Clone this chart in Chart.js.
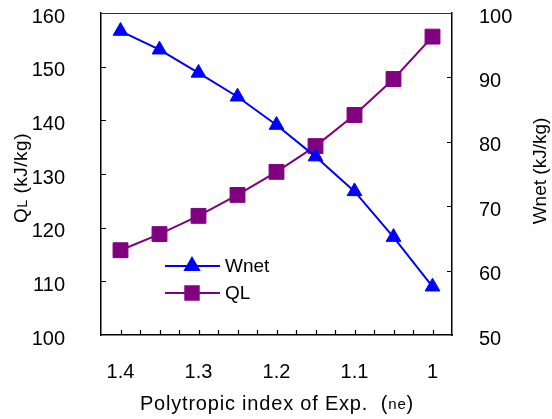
<!DOCTYPE html>
<html>
<head>
<meta charset="utf-8">
<script src="https://cdn.jsdelivr.net/npm/chart.js@4.4.0/dist/chart.umd.min.js"></script>
<style>
  html, body { margin: 0; padding: 0; background: #fff; }
</style>
</head>
<body>
<canvas id="chart" width="552" height="419"></canvas>
<script>
// data
const labels = ["1.4", "1.35", "1.3", "1.25", "1.2", "1.15", "1.1", "1.05", "1"];
const shownX = ["1.4", "1.3", "1.2", "1.1", "1"];
const wnet = [97.2, 94.3, 90.7, 87.0, 82.6, 77.7, 72.3, 65.2, 57.5];
const ql = [115.8, 118.8, 122.2, 126.1, 130.4, 135.2, 141.0, 147.7, 155.6];
const qlRange = [100, 160];
const wnetRange = [50, 100];

const BLUE = "#0000ff";
const PURPLE = "#800080";
const FONT = "'Liberation Sans', Arial, sans-serif";

// text with a smaller lowered part, e.g. Q + L
function drawParts(ctx, parts, x, y, size, align, spacing) {
  ctx.letterSpacing = (spacing || 0) + "px";
  let total = 0;
  parts.forEach(p => {
    ctx.font = (p.sub ? size * 0.75 : size) + "px " + FONT;
    total += ctx.measureText(p.t).width;
  });
  let cx = align === "center" ? x - total / 2 : x;
  parts.forEach(p => {
    ctx.font = (p.sub ? size * 0.75 : size) + "px " + FONT;
    ctx.fillText(p.t, cx, y + (p.sub ? 1 : 0));
    cx += ctx.measureText(p.t).width;
  });
  ctx.letterSpacing = "0px";
}

const framePlugin = {
  id: "frame",
  afterDraw(chart) {
    const ctx = chart.ctx;
    const a = chart.chartArea;
    const x = chart.scales.x, yl = chart.scales.y, yr = chart.scales.y1;
    ctx.save();
    // top border
    ctx.strokeStyle = "#333";
    ctx.lineWidth = 1;
    ctx.beginPath();
    ctx.moveTo(a.left, a.top + 0.5);
    ctx.lineTo(a.right, a.top + 0.5);
    ctx.stroke();
    // inner tick marks
    ctx.strokeStyle = "#000";
    ctx.lineWidth = 1.2;
    ctx.beginPath();
    const half = (x.getPixelForValue(1) - x.getPixelForValue(0)) / 2;
    for (let i = 0; i < labels.length; i++) {
      [x.getPixelForValue(i) - half, x.getPixelForValue(i)].forEach(px => {
        if (px > a.left + 2) {
          ctx.moveTo(Math.round(px) + 0.5, a.bottom);
          ctx.lineTo(Math.round(px) + 0.5, a.bottom - 5);
        }
      });
    }
    for (let v = qlRange[0] + 10; v < qlRange[1]; v += 10) {
      const py = Math.round(yl.getPixelForValue(v)) + 0.5;
      ctx.moveTo(a.left, py);
      ctx.lineTo(a.left + 5, py);
    }
    for (let v = wnetRange[0] + 10; v < wnetRange[1]; v += 10) {
      const py = Math.round(yr.getPixelForValue(v)) + 0.5;
      ctx.moveTo(a.right, py);
      ctx.lineTo(a.right - 5, py);
    }
    ctx.stroke();

    // axis titles
    ctx.fillStyle = "#000";
    ctx.textBaseline = "middle";
    ctx.textAlign = "left";
    drawParts(ctx, [{ t: "Polytropic index of Exp.  (" }, { t: "ne", sub: true }, { t: ")" }],
      277, 404, 20, "center", 0.8);

    ctx.save();
    ctx.translate(22, 178);
    ctx.rotate(-Math.PI / 2);
    drawParts(ctx, [{ t: "Q" }, { t: "L", sub: true }, { t: " (kJ/kg)" }], 0, 0, 19, "center", 0.5);
    ctx.restore();

    ctx.save();
    ctx.translate(541, 171);
    ctx.rotate(-Math.PI / 2);
    drawParts(ctx, [{ t: "Wnet (kJ/kg)" }], 0, 0, 19, "center", 0);
    ctx.restore();

    // legend
    const items = [
      { label: "Wnet", color: BLUE, style: "triangle", r: 8, y: 266 },
      { label: "QL", color: PURPLE, style: "rect", r: 9.5, y: 293 }
    ];
    items.forEach(it => {
      ctx.strokeStyle = it.color;
      ctx.lineWidth = 2;
      ctx.beginPath();
      ctx.moveTo(165, it.y);
      ctx.lineTo(220, it.y);
      ctx.stroke();
      ctx.fillStyle = it.color;
      Chart.helpers.drawPoint(ctx, { pointStyle: it.style, radius: it.r, borderWidth: 1 }, 192, it.y);
      ctx.fillStyle = "#000";
      ctx.font = "19px " + FONT;
      ctx.textAlign = "left";
      ctx.fillText(it.label, 225, it.y + 1);
    });
    ctx.restore();
  }
};

const noPadY = w => s => { s.width = w; s.paddingTop = 0; s.paddingBottom = 0; };

new Chart(document.getElementById("chart"), {
  type: "line",
  data: {
    labels: labels,
    datasets: [
      {
        label: "Wnet",
        data: wnet,
        yAxisID: "y1",
        borderColor: BLUE,
        backgroundColor: BLUE,
        borderWidth: 2,
        pointStyle: "triangle",
        pointRadius: 8.5,
        pointBorderWidth: 1,
        tension: 0
      },
      {
        label: "QL",
        data: ql,
        yAxisID: "y",
        borderColor: PURPLE,
        backgroundColor: PURPLE,
        borderWidth: 2,
        pointStyle: "rect",
        pointRadius: 10.5,
        pointBorderWidth: 1,
        tension: 0
      }
    ]
  },
  options: {
    responsive: false,
    animation: false,
    layout: { padding: { top: 13, left: 0, right: 0, bottom: 0 } },
    plugins: { legend: { display: false }, tooltip: { enabled: false } },
    scales: {
      x: {
        type: "category",
        offset: true,
        grid: { display: false },
        border: { display: true, color: "#000", width: 1.5 },
        afterFit: s => { s.height = 84; s.paddingLeft = 0; s.paddingRight = 0; },
        ticks: {
          autoSkip: false,
          maxRotation: 0,
          padding: 17,
          color: "#000",
          font: { size: 20, family: FONT },
          callback: (v, i) => shownX.includes(labels[i]) ? labels[i] : ""
        }
      },
      y: {
        position: "left",
        min: qlRange[0],
        max: qlRange[1],
        grid: { display: false },
        border: { display: true, color: "#000", width: 1.5 },
        afterFit: noPadY(101),
        ticks: {
          stepSize: 10,
          padding: 28,
          labelOffset: 4,
          color: "#000",
          font: { size: 20, family: FONT }
        }
      },
      y1: {
        position: "right",
        min: wnetRange[0],
        max: wnetRange[1],
        grid: { display: false },
        border: { display: true, color: "#000", width: 1.5 },
        afterFit: noPadY(100),
        ticks: {
          stepSize: 10,
          padding: 19,
          labelOffset: 4,
          color: "#000",
          font: { size: 20, family: FONT }
        }
      }
    }
  },
  plugins: [framePlugin]
});
</script>
</body>
</html>
